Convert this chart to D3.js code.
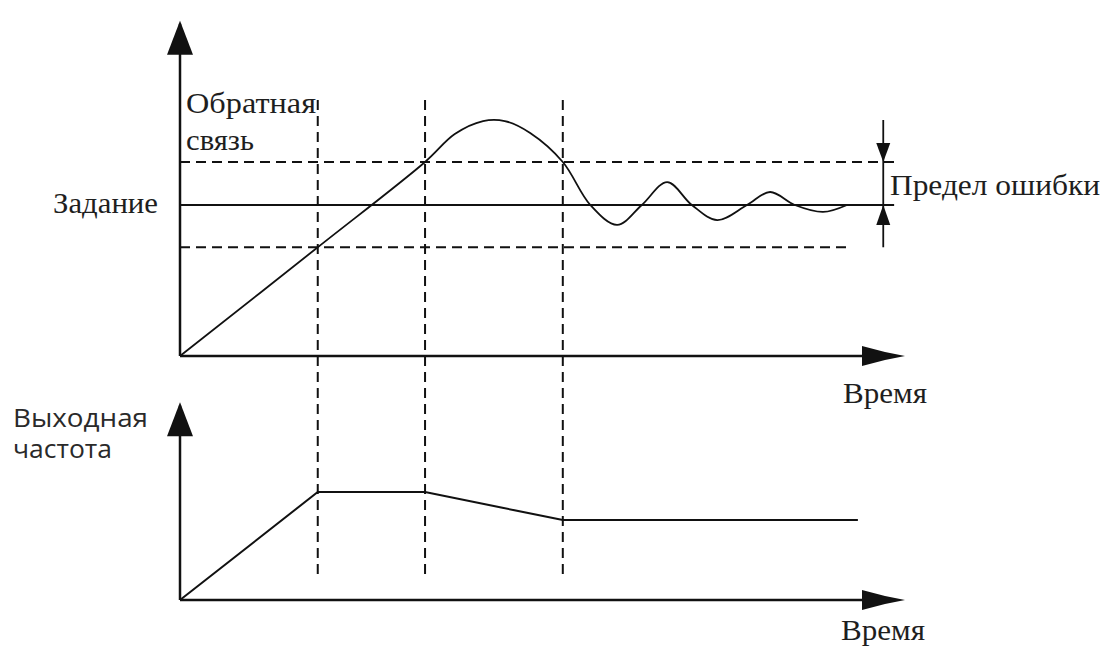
<!DOCTYPE html>
<html>
<head>
<meta charset="utf-8">
<script src="https://cdn.jsdelivr.net/npm/d3@7"></script>
<style>
  body { margin: 0; background: #fff; }
  .serif { font-family: "Liberation Serif", "DejaVu Serif", serif; font-size: 30px; fill: #1e1e1e; }
  .sans { font-family: "Open Sans", "Noto Sans", sans-serif; font-size: 25px; fill: #2a2a2a; }
</style>
</head>
<body>
<div id="chart"></div>
<script>
// time (0..100) and normalised values
var respTime  = [0, 19, 33.8, 37.9, 41.8, 44.8, 48.3, 52.8, 56.6, 60.3, 63.7, 67.2, 70.6, 74.1, 78.2, 81.4, 84.8, 88.7, 92];
var respValue = [0, 0.72, 1.285, 1.47, 1.556, 1.556, 1.477, 1.285, 1.0, 0.868, 1.0, 1.152, 1.0, 0.9, 1.0, 1.086, 1.0, 0.954, 1.0];

var freqTime  = [0, 19, 33.8, 52.8, 93.5];
var freqValue = [0, 1, 1, 0.74, 0.74];

var eventTimes = [19, 33.8, 52.8];
var setpoint = 1.0;
var bandHigh = 1.285, bandLow = 0.72;

var labels = {
  feedback: ["Обратная", "связь"],
  setpoint: "Задание",
  error: "Предел ошибки",
  time: "Время",
  freq: ["Выходная", "частота"]
};

var W = 1102, H = 646;
var svg = d3.select("#chart").append("svg")
    .attr("width", W).attr("height", H);
svg.append("rect").attr("width", W).attr("height", H).attr("fill", "#fff");

// scales
var x = d3.scaleLinear().domain([0, 100]).range([180, 905]);
var yTop = d3.scaleLinear().domain([0, 1]).range([356, 205]);
var yBot = d3.scaleLinear().domain([0, 1]).range([600, 492]);

var ink = "#111";

function upArrow(cx, tipY) {
  svg.append("path")
    .attr("d", "M" + cx + "," + tipY + " L" + (cx - 13) + "," + (tipY + 34) + " L" + (cx + 13) + "," + (tipY + 34) + " Z")
    .attr("fill", ink);
}
function rightArrow(tipX, cy) {
  svg.append("path")
    .attr("d", "M" + tipX + "," + cy + " L" + (tipX - 20) + "," + (cy - 4) + " L" + (tipX - 43) + "," + (cy - 10)
      + " L" + (tipX - 43) + "," + (cy + 10) + " L" + (tipX - 20) + "," + (cy + 4) + " Z")
    .attr("fill", ink);
}

// axes (top)
svg.append("line").attr("x1", x(0)).attr("x2", x(0)).attr("y1", yTop(0)).attr("y2", yTop(2.2))
  .attr("stroke", ink).attr("stroke-width", 2.5);
svg.append("line").attr("x1", x(0)).attr("x2", x(98)).attr("y1", yTop(0)).attr("y2", yTop(0))
  .attr("stroke", ink).attr("stroke-width", 2.5);
upArrow(x(0), yTop(2.22));
rightArrow(x(100), yTop(0));

// axes (bottom)
svg.append("line").attr("x1", x(0)).attr("x2", x(0)).attr("y1", yBot(0)).attr("y2", yBot(1.8))
  .attr("stroke", ink).attr("stroke-width", 2.5);
svg.append("line").attr("x1", x(0)).attr("x2", x(98)).attr("y1", yBot(0)).attr("y2", yBot(0))
  .attr("stroke", ink).attr("stroke-width", 2.5);
upArrow(x(0), yBot(1.83));
rightArrow(x(100), yBot(0));

// error band lines
svg.append("line").attr("x1", x(0)).attr("x2", x(98.5)).attr("y1", yTop(bandHigh)).attr("y2", yTop(bandHigh))
  .attr("stroke", ink).attr("stroke-width", 2).attr("stroke-dasharray", "10,6");
svg.append("line").attr("x1", x(0)).attr("x2", x(92.5)).attr("y1", yTop(bandLow)).attr("y2", yTop(bandLow))
  .attr("stroke", ink).attr("stroke-width", 2).attr("stroke-dasharray", "10,6");
svg.append("line").attr("x1", x(0)).attr("x2", x(98.5)).attr("y1", yTop(setpoint)).attr("y2", yTop(setpoint))
  .attr("stroke", ink).attr("stroke-width", 2);

// event markers
eventTimes.forEach(function(t) {
  svg.append("line")
    .attr("x1", x(t)).attr("x2", x(t))
    .attr("y1", 100).attr("y2", 578)
    .attr("stroke", ink).attr("stroke-width", 2).attr("stroke-dasharray", "10,6");
});

// error limit bracket
var bx = x(97);
svg.append("line").attr("x1", bx).attr("x2", bx).attr("y1", yTop(1.563)).attr("y2", yTop(bandLow))
  .attr("stroke", ink).attr("stroke-width", 1.8);
svg.append("path")
  .attr("d", "M" + bx + "," + yTop(bandHigh) + " L" + (bx - 7) + "," + (yTop(bandHigh) - 19) + " L" + (bx + 7) + "," + (yTop(bandHigh) - 19) + " Z")
  .attr("fill", ink);
svg.append("path")
  .attr("d", "M" + bx + "," + yTop(setpoint) + " L" + (bx - 7) + "," + (yTop(setpoint) + 20) + " L" + (bx + 7) + "," + (yTop(setpoint) + 20) + " Z")
  .attr("fill", ink);

// feedback response
var resp = respTime.map(function(t, i) { return [t, respValue[i]]; });
svg.append("path")
  .datum(resp)
  .attr("d", d3.line()
    .x(function(d) { return x(d[0]); })
    .y(function(d) { return yTop(d[1]); })
    .curve(d3.curveCatmullRom.alpha(0.5)))
  .attr("fill", "none").attr("stroke", ink).attr("stroke-width", 1.8);

// output frequency
var freq = freqTime.map(function(t, i) { return [t, freqValue[i]]; });
svg.append("path")
  .datum(freq)
  .attr("d", d3.line()
    .x(function(d) { return x(d[0]); })
    .y(function(d) { return yBot(d[1]); }))
  .attr("fill", "none").attr("stroke", ink).attr("stroke-width", 2);

// labels (widths matched to the picture)
function label(cls, tx, ty, txt, len, anchor) {
  svg.append("text").attr("class", cls)
    .attr("x", tx).attr("y", ty)
    .attr("text-anchor", anchor || "start")
    .attr("textLength", len).attr("lengthAdjust", "spacingAndGlyphs")
    .text(txt);
}
label("serif", 186, 113, labels.feedback[0], 130);
label("serif", 186, 150, labels.feedback[1], 68);
label("serif", 53, 213, labels.setpoint, 105);
label("serif", 890, 195, labels.error, 210);
label("serif", 843, 403, labels.time, 84);
label("serif", 841, 640, labels.time, 84);
label("sans", 13, 427, labels.freq[0], 135);
label("sans", 13, 458, labels.freq[1], 99);
</script>
</body>
</html>
